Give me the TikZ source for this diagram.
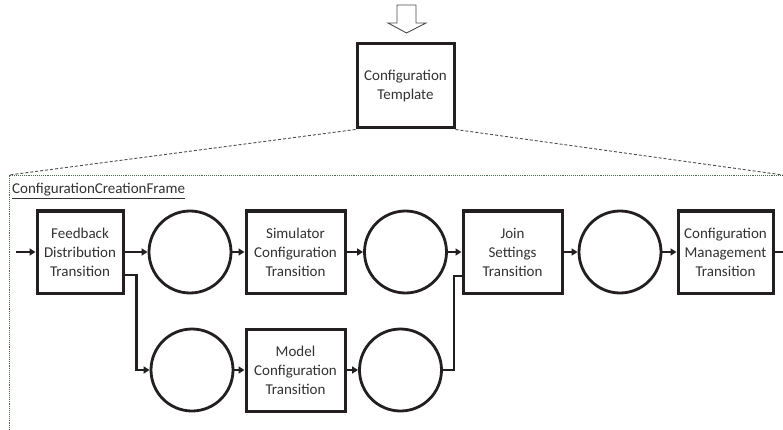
\documentclass[tikz,border=0pt]{standalone}
\usepackage{fontspec}
\setmainfont{Carlito}
\usetikzlibrary{arrows.meta}
\definecolor{inkgray}{RGB}{35,31,32}
\definecolor{txtgray}{RGB}{50,50,50}
\definecolor{framegreen}{RGB}{70,105,80}

\begin{document}
\begin{tikzpicture}[x=1pt,y=1pt,
  trans/.style={draw=inkgray,line width=3pt,rectangle,minimum height=82pt,inner sep=0pt,
    align=center,text=txtgray,font=\fontsize{15}{19}\selectfont},
  place/.style={draw=inkgray,line width=2.8pt,circle,minimum size=82pt,inner sep=0pt},
  flow/.style={draw=inkgray,line width=2.6pt,-{Triangle[length=6pt,width=7pt]}},
  link/.style={draw=inkgray,line width=2.6pt},
  zoomline/.style={draw=inkgray!80,line width=0.9pt,densely dashed}]
\useasboundingbox (0,0) rectangle (783,-430);
\draw [inkgray!80,line width=0.9pt,fill=white] (397,-5) -- (416,-5) -- (416,-23) -- (426,-23)
  -- (406.5,-33) -- (388,-23) -- (397,-23) -- cycle;
\node [trans,minimum width=97pt,minimum height=84pt] (tmpl) at (405.5,-86) {Configuration\\Template};
\coordinate (fnw) at (9,-175);
\coordinate (fne) at (783,-175);
\coordinate (fsw) at (9,-430);
\draw [framegreen,line width=0.9pt,densely dotted] (fsw) -- (fnw) -- (fne);
\draw [zoomline] (tmpl.south west) -- (fnw);
\draw [zoomline] (tmpl.south east) -- (fne);
\node [anchor=west,inner sep=0pt,text=txtgray,font=\fontsize{15}{19}\selectfont] (framelbl) at (12,-191)
  {\underline{ConfigurationCreationFrame}};
\node [trans,minimum width=86pt] (fdt) at (80,-252) {Feedback\\Distribution\\Transition};
\node [place] (p1) at (190,-252) {};
\node [trans,minimum width=99pt] (sim) at (295.5,-252) {Simulator\\Configuration\\Transition};
\node [place] (p2) at (405.5,-252) {};
\node [trans,minimum width=99pt] (join) at (512.5,-252) {Join\\Settings\\Transition};
\node [place] (p3) at (620,-252) {};
\node [trans,minimum width=95pt] (cmt) at (725.5,-252) {Configuration\\Management\\Transition};
\node [place] (p4) at (192,-370) {};
\node [trans,minimum width=99pt] (model) at (295.5,-370) {Model\\Configuration\\Transition};
\node [place] (p5) at (400.5,-370) {};
\coordinate (in) at (16,-252);
\coordinate (out) at (783,-252);
\draw [flow] (in) -- (fdt);
\draw [flow] (fdt) -- (p1);
\draw [flow] (p1) -- (sim);
\draw [flow] (sim) -- (p2);
\draw [flow] (p2) -- (join);
\draw [flow] (join) -- (p3);
\draw [flow] (p3) -- (cmt);
\draw [link] (cmt) -- (out);
\draw [flow] ([yshift=-23pt]fdt.east) -- ++(12,0) |- (p4.west);
\draw [flow] (p4) -- (model);
\draw [flow] (model) -- (p5);
\draw [link] (p5.east) -- ++(11,0) |- ([yshift=-24pt]join.west);
\end{tikzpicture}
\end{document}
